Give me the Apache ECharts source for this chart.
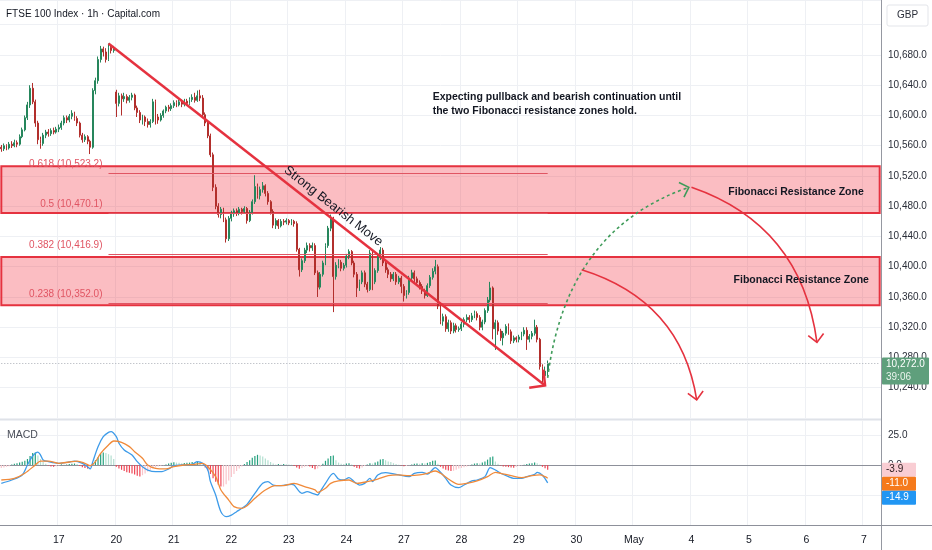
<!DOCTYPE html>
<html>
<head>
<meta charset="utf-8">
<script src="https://cdn.jsdelivr.net/npm/echarts@6/dist/echarts.min.js"></script>
<style>
  html, body { margin: 0; padding: 0; background: #fff; }
  #main { width: 932px; height: 550px; }
</style>
</head>
<body>
<div id="main"></div>
<script>
// time scale: 22 hourly bars per trading day
var barsPerDay = 22;
var dayLabels = ['', '17', '20', '21', '22', '23', '24', '27', '28', '29', '30', 'May', '4', '5', '6', '7'];
var totalSlots = 337;

// FTSE 100 1h candles  [open, close, low, high]
var candles = [
  [10558,10556,10552,10561],[10556,10560,10553,10563],[10560,10557,10554,10562],[10557,10562,10555,10565],
  [10562,10560,10557,10566],[10560,10564,10558,10568],[10564,10562,10558,10567],[10562,10572,10560,10575],
  [10572,10581,10570,10584],[10581,10597,10579,10600],[10597,10614,10594,10618],[10614,10636,10610,10640],
  [10636,10618,10615,10643],[10618,10590,10585,10621],[10590,10568,10562,10593],[10568,10563,10556,10572],
  [10563,10574,10560,10577],[10574,10578,10570,10581],[10578,10576,10572,10582],[10576,10580,10573,10583],
  [10580,10578,10575,10584],[10578,10582,10576,10585],
  [10582,10584,10578,10588],[10584,10590,10581,10593],[10590,10597,10587,10600],[10597,10594,10590,10600],
  [10594,10599,10591,10602],[10599,10603,10595,10607],[10603,10596,10593,10605],[10596,10590,10586,10599],
  [10590,10574,10571,10592],[10574,10568,10564,10577],[10568,10572,10565,10575],[10572,10566,10562,10574],
  [10566,10558,10549,10568],[10558,10633,10556,10636],[10633,10646,10628,10650],[10646,10674,10642,10678],
  [10674,10688,10670,10692],[10688,10684,10678,10691],[10684,10674,10670,10689],[10674,10690,10672,10695.3],
  [10690,10686,10682,10693],[10686,10689,10683,10692],
  [10631,10616,10598,10634],[10616,10626,10612,10630],[10626,10622,10600,10629],[10622,10625,10618,10630],
  [10625,10620,10616,10628],[10620,10624,10617,10627],[10624,10627,10620,10630],[10627,10610,10607,10629],
  [10610,10604,10598,10613],[10604,10594,10590,10607],[10594,10598,10588,10601],[10598,10592,10586,10600],
  [10592,10588,10584,10596],[10588,10592,10584,10595],[10592,10618,10590,10622],[10618,10598,10588,10621],
  [10598,10594,10589,10602],[10594,10600,10592,10603],[10600,10606,10597,10608],[10606,10611,10603,10613],
  [10611,10609,10605,10614],[10609,10613,10606,10616],
  [10613,10617,10610,10620],[10617,10614,10611,10620],[10614,10618,10612,10621],[10618,10615,10611,10621],
  [10615,10619,10612,10622],[10619,10616,10613,10622],[10616,10621,10614,10624],[10621,10624,10618,10628],
  [10624,10620,10617,10630],[10620,10626,10618,10633],[10626,10623,10619,10634],[10623,10601,10598,10627],
  [10601,10590,10586,10604],[10590,10573,10570,10593],[10573,10548,10545,10576],[10548,10505,10500,10551],
  [10505,10480,10476,10509],[10480,10469,10465,10484],[10469,10476,10464,10479],[10476,10462,10459,10478],
  [10462,10437,10432,10465],[10437,10464,10434,10467],
  [10464,10470,10460,10474],[10470,10474,10466,10477],[10474,10471,10467,10477],[10471,10476,10468,10479],
  [10476,10473,10469,10478],[10473,10477,10470,10480],[10477,10461,10457,10479],[10461,10472,10459,10475],
  [10472,10486,10469,10489],[10486,10506,10483,10521],[10506,10494,10490,10510],[10494,10502,10489,10506],
  [10502,10507,10498,10512],[10507,10497,10493,10509],[10497,10486,10482,10500],[10486,10473,10469,10488],
  [10473,10455,10451,10476],[10455,10461,10450,10464],[10461,10454,10450,10463],[10454,10460,10452,10463],
  [10460,10459,10455,10463],[10459,10461,10456,10464],
  [10461,10458,10455,10463],[10458,10460,10455,10463],[10460,10457,10453,10462],[10457,10423,10420,10460],
  [10423,10396,10387,10425],[10396,10408,10393,10411],[10408,10422,10405,10425],[10422,10428,10418,10432],
  [10428,10425,10420,10431],[10425,10428,10421,10432],[10428,10392,10389,10431],[10392,10373,10360,10395],
  [10373,10390,10370,10393],[10390,10405,10387,10408],[10405,10428,10402,10431],[10428,10451,10425,10454],
  [10451,10464,10447,10469],[10464,10387,10340,10466],[10387,10402,10383,10406],[10402,10406,10398,10410],
  [10406,10398,10394,10409],[10398,10402,10395,10405],
  [10402,10414,10399,10417],[10414,10420,10410,10423],[10420,10405,10402,10422],[10405,10390,10386,10408],
  [10390,10372,10360,10393],[10372,10380,10368,10383],[10380,10392,10377,10395],[10392,10377,10373,10395],
  [10377,10370,10366,10380],[10370,10418,10368,10422],[10418,10380,10369,10421],[10380,10395,10377,10398],
  [10395,10413,10392,10416],[10413,10422,10409,10426],[10422,10405,10401,10425],[10405,10396,10392,10408],
  [10396,10390,10385,10399],[10390,10384,10380,10393],[10384,10390,10381,10393],[10390,10380,10376,10393],
  [10380,10385,10377,10388],[10385,10374,10365,10388],
  [10374,10362,10354,10377],[10362,10366,10358,10369],[10366,10385,10363,10388],[10385,10392,10381,10396],
  [10392,10384,10380,10395],[10384,10379,10375,10387],[10379,10374,10370,10382],[10374,10368,10364,10377],
  [10368,10362,10358,10371],[10362,10375,10360,10378],[10375,10386,10372,10389],[10386,10394,10383,10398],
  [10394,10400,10390,10409],[10400,10348,10344,10403],[10348,10328,10324,10351],[10328,10334,10322,10338],
  [10334,10318,10314,10337],[10318,10326,10314,10330],[10326,10315,10311,10329],[10315,10322,10312,10326],
  [10322,10317,10313,10325],[10317,10318,10314,10321],
  [10318,10324,10315,10327],[10324,10330,10320,10333],[10330,10333,10327,10337],[10333,10330,10326,10336],
  [10330,10335,10327,10339],[10335,10338,10332,10342],[10338,10333,10329,10341],[10333,10320,10316,10336],
  [10320,10327,10316,10330],[10327,10342,10324,10345],[10342,10356,10339,10360],[10356,10372,10353,10380],
  [10372,10318,10304,10374],[10318,10326,10290,10330],[10326,10315,10310,10329],[10315,10306,10302,10318],
  [10306,10312,10296,10315],[10312,10321,10309,10324],[10321,10314,10310,10325],[10314,10302,10298,10317],
  [10302,10306,10299,10309],[10306,10304,10300,10308],
  [10304,10307,10300,10310],[10307,10311,10303,10314],[10311,10316,10308,10320],[10316,10304,10290,10320],
  [10304,10308,10300,10311],[10308,10312,10304,10315],[10312,10320,10309,10330],[10320,10304,10300,10323],
  [10304,10268,10264,10306],[10268,10256,10245,10271],[10256,10262,10248,10268],[10262,10272,10255,10276]
];

// MACD histogram, one value per bar
var macdHist = [
  -2.5,-2,-1.5,-1,0.5,1,1.5,2,2.8,3.5,
  5,7.5,10,10.5,8,5,2.5,1,-0.5,-1.2,
  -1.5,-1,-0.5,0.5,0.3,0.5,0.8,1,1.2,0.8,
  -0.8,-1.8,-2.5,-3,-1.5,1.5,4,6.5,9.5,10.5,
  10,9,8,5,-1.5,-3,-4,-5,-6,-6.5,
  -7,-8,-9,-9.5,-8.5,-7,-5.5,-4,-3,-2,
  -1.2,-0.6,-0.2,0.5,1.2,1.8,2.2,2,1.8,1.5,
  1.6,1.8,2,2.4,2.2,2.6,2.3,0.5,-2,-4.5,
  -7.5,-11,-14,-16.5,-18,-18,-16,-13,-10,-7.5,
  -5,-3,-1.2,0.8,2.5,4,6,7.5,8.5,8,
  7,5.5,4,2.5,1.2,0.5,0.8,0.5,0.8,0.6,
  0.4,0.2,-0.8,-2,-3.2,-2.5,-1.5,-1,-1.2,-2.5,
  -3.5,-3,-1.5,1,3.5,5.5,7.5,8,4,2,
  1,0.8,1.2,1.5,0.5,-1.5,-2.5,-3,-2,-0.8,
  0.5,1.5,1.2,2,3,4.5,5,4,3,2.5,
  1.5,0.8,0.3,-0.5,-1,-0.8,-0.3,0.5,1,1.2,
  1,1.5,1.2,1.8,2.5,3.5,3.8,1,-1.5,-3,
  -4,-4.5,-5,-4.8,-4,-3,-2.5,-1.8,-1.2,-0.5,
  0.5,1.2,1.5,1.2,2,3,4.5,6.5,7,3,
  1,-0.5,-1.2,-1.5,-1.8,-2,-2.2,-1.5,-0.8,-0.3,
  0.3,0.8,1.2,1.5,2,1.5,0.5,-1.5,-2.8,-3.9
];

// MACD line, read at [bar, value]
var macdLine = [
  [0,-15.3],[4,-12.5],[8,-8.3],[10,0],[12,7.5],[14,10.8],[15,8.3],[16,4.2],[18,2.8],[22,1.4],
  [26,2.5],[28,3.3],[31,1.4],[33,-1.4],[34,-3.3],[35,2.8],[37,15.3],[39,23.6],[41,27.2],[42,27.8],
  [44,23.6],[45,18.1],[47,12.5],[50,8.3],[52,2.8],[54,-1.4],[56,-4.2],[59,-5.6],[61,-5.6],[64,-3.3],
  [66,-0.6],[69,0],[73,0.6],[75,2.8],[77,1.4],[79,-4.2],[80,-13.9],[82,-25],[84,-38.9],[86,-43],
  [88,-41.7],[90,-38.9],[92,-36.1],[94,-32.8],[97,-23.6],[100,-15.3],[102,-13.9],[104,-16.7],[107,-17.2],[111,-16.1],
  [112,-16.7],[115,-23.6],[117,-22.2],[119,-23.6],[121,-25],[122,-22],[124,-15.3],[127,-6.9],[129,-11.7],[131,-12.5],
  [133,-10.6],[135,-13.9],[137,-16.7],[139,-15.3],[141,-11.1],[142,-13.9],[144,-8.3],[147,-6.4],[149,-6.9],[152,-8.3],
  [156,-9.7],[158,-6.9],[161,-6.1],[163,-7.5],[166,-2.2],[168,-6.1],[170,-11.1],[172,-16.7],[175,-18.9],[177,-16.7],
  [180,-13.3],[182,-12.5],[185,-9.7],[187,-2.2],[189,-4.2],[191,-6.9],[194,-9.7],[196,-11.1],[199,-11.1],[201,-9.7],
  [204,-7.8],[205,-6.1],[207,-8.5],[209,-14.9]
];

// signal line, read at [bar, value]
var signalLine = [
  [0,-12.5],[5,-11.1],[9,-6.9],[13,0],[15,3.3],[18,3.3],[22,1.4],[26,2.5],[29,3.3],[32,1.4],
  [34,-0.5],[36,2.8],[38,9.7],[41,16.7],[43,20],[46,18.9],[49,15.3],[51,11.1],[54,5.6],[56,0],
  [59,-2.8],[63,-3.3],[66,-1.4],[70,0],[74,0.6],[77,1.4],[79,-1.4],[82,-9.7],[84,-20.8],[87,-29.2],
  [89,-34.7],[92,-36.1],[94,-33.9],[97,-27.8],[101,-20.8],[105,-17.2],[108,-17.2],[112,-15.3],[116,-18.1],[120,-20.8],
  [121,-22.8],[124,-19.4],[126,-15.3],[129,-13.3],[133,-12.5],[136,-15.3],[140,-13.9],[144,-11.7],[148,-8.9],[152,-8.3],
  [156,-8.9],[160,-8.3],[163,-6.9],[166,-5],[168,-6.9],[171,-11.7],[175,-16.1],[178,-15.3],[182,-13.3],[186,-9.7],
  [189,-6.1],[191,-6.9],[195,-8.9],[199,-10.6],[203,-8.9],[206,-8.3],[208,-9.7],[209,-11]
];

// fibonacci retracement levels and resistance zones
var fibLevels = [
  { ratio: '0.618', value: 10523.2 },
  { ratio: '0.5', value: 10470.1 },
  { ratio: '0.382', value: 10416.9 },
  { ratio: '0.238', value: 10352.0 }
];
var fibStart = 41, fibEnd = 209;
var zones = [[10471, 10533], [10349, 10413]];

// trend line (bar, price)
var trendFrom = [41, 10695.3];
var trendTo = [208, 10243];

// projection arrows in (bar, price): start, control, end
var projections = [
  { from: [209, 10253], ctrl: [216, 10449], to: [263, 10505], color: '#3f9b5a', dashed: true },
  { from: [222, 10396], ctrl: [260, 10355], to: [266, 10224], color: '#e5323f' },
  { from: [264, 10505], ctrl: [306, 10455], to: [312, 10300], color: '#e5323f' }
];

var notes = [
  { at: [165, 10634], text: 'Expecting pullback and bearish continuation until\nthe two Fibonacci resistance zones hold.', align: 'left' },
  { at: [304, 10499], text: 'Fibonacci Resistance Zone', align: 'center' },
  { at: [306, 10382.5], text: 'Fibonacci Resistance Zone', align: 'center' }
];

var FONT = "'Liberation Sans', Arial, sans-serif";
var upColor = '#26865c';
var downColor = '#b22f2c';
var gridColor = '#eef0f4';
var red = '#e5323f';

var categories = [];
dayLabels.forEach(function (d, di) {
  for (var k = 0; k < barsPerDay; k++) {
    categories.push(k === 0 && d ? d : (di + ':' + k));
  }
});
categories = categories.slice(0, totalSlots);

function isDayStart(v) {
  return String(v).indexOf(':') < 0;
}

function fmt(v) {
  var s = Math.abs(v).toFixed(1).split('.');
  return (v < 0 ? '-' : '') + s[0].replace(/\B(?=(\d{3})+(?!\d))/g, ',') + '.' + s[1];
}

// histogram colours like the TradingView MACD
var histData = macdHist.map(function (v, i) {
  var prev = i > 0 ? macdHist[i - 1] : v;
  var c;
  if (v >= 0) c = v >= prev ? '#26a17f' : '#b2dfd0';
  else c = v < prev ? '#ef4655' : '#f9c4ca';
  return { value: v, itemStyle: { color: c } };
});

var chart = echarts.init(document.getElementById('main'));

var option = {
  animation: false,
  backgroundColor: '#ffffff',
  textStyle: { fontFamily: FONT },
  grid: [
    { left: -2, right: 51, top: 0, height: 418 },
    { left: -2, right: 51, top: 420, height: 105 }
  ],
  xAxis: [
    {
      type: 'category', gridIndex: 0, data: categories,
      axisLine: { show: false }, axisTick: { show: false }, axisLabel: { show: false },
      splitLine: { show: true, interval: function (i, v) { return isDayStart(v); }, lineStyle: { color: gridColor } }
    },
    {
      type: 'category', gridIndex: 1, data: categories,
      axisLine: { show: true, lineStyle: { color: '#8d909a' } },
      axisTick: { show: false },
      axisLabel: {
        interval: function (i, v) { return isDayStart(v); },
        formatter: function (v) { return isDayStart(v) ? v : ''; },
        color: '#131722', fontSize: 10.5, margin: 10, fontFamily: FONT
      },
      splitLine: { show: true, interval: function (i, v) { return isDayStart(v); }, lineStyle: { color: gridColor } }
    }
  ],
  yAxis: [
    {
      type: 'value', gridIndex: 0, position: 'right', scale: true,
      min: 10200, max: 10752.7, interval: 40,
      axisLine: { show: false }, axisTick: { show: false },
      splitLine: { lineStyle: { color: gridColor } },
      axisLabel: {
        margin: 7, color: '#2a2e39', fontSize: 10, fontFamily: FONT,
        formatter: function (v) { return (v < 10240 || v > 10700) ? '' : fmt(v); }
      }
    },
    {
      type: 'value', gridIndex: 1, position: 'right',
      min: -50, max: 37.5, interval: 25,
      axisLine: { show: false }, axisTick: { show: false },
      splitLine: { lineStyle: { color: gridColor } },
      axisLabel: {
        margin: 7, color: '#2a2e39', fontSize: 10, fontFamily: FONT,
        formatter: function (v) { return (v === 25 || v === 0) ? fmt(v) : ''; }
      }
    }
  ],
  series: [
    {
      // zones, fib lines and price line, drawn under the candles
      type: 'line', xAxisIndex: 0, yAxisIndex: 0, data: [], z: 1,
      markArea: {
        silent: true,
        itemStyle: { color: 'rgba(242,54,69,0.33)', borderColor: red, borderWidth: 2 },
        data: zones.map(function (z) {
          return [{ xAxis: 0, yAxis: z[1] }, { xAxis: totalSlots - 1, yAxis: z[0] }];
        })
      },
      markLine: {
        silent: true, symbol: ['none', 'none'], label: { show: false },
        data: fibLevels.map(function (f) {
          return [
            { coord: [fibStart, f.value], lineStyle: { color: '#e05563', width: 1, type: 'solid' } },
            { coord: [fibEnd, f.value] }
          ];
        }).concat([[
          { coord: [0, candles[candles.length - 1][1]], lineStyle: { color: '#a9adb5', width: 1, type: [1, 2] } },
          { coord: [totalSlots - 1, candles[candles.length - 1][1]] }
        ]])
      }
    },
    {
      type: 'candlestick', xAxisIndex: 0, yAxisIndex: 0, z: 2,
      data: candles,
      barWidth: 1.4,
      itemStyle: {
        color: upColor, color0: downColor,
        borderColor: upColor, borderColor0: downColor, borderWidth: 1
      }
    },
    {
      // the "strong bearish move" trend line
      type: 'line', xAxisIndex: 0, yAxisIndex: 0, data: [], z: 5,
      markLine: {
        silent: true, symbol: ['none', 'none'],
        lineStyle: { color: red, width: 2.5, type: 'solid' },
        label: {
          show: true, position: 'insideMiddleTop', distance: 4,
          formatter: 'Strong Bearish Move', color: '#131722', fontSize: 13, fontFamily: FONT
        },
        data: [[{ coord: trendFrom }, { coord: trendTo }]]
      }
    },
    {
      type: 'bar', xAxisIndex: 1, yAxisIndex: 1, data: histData, barWidth: 1.2
    },
    {
      type: 'line', xAxisIndex: 1, yAxisIndex: 1, data: macdLine,
      showSymbol: false, smooth: 0.3, lineStyle: { color: '#3d9be9', width: 1.3 }, z: 3
    },
    {
      type: 'line', xAxisIndex: 1, yAxisIndex: 1, data: signalLine,
      showSymbol: false, smooth: 0.3, lineStyle: { color: '#f08a3a', width: 1.3 }, z: 3
    }
  ]
};

chart.setOption(option);

function pt(c) {
  return chart.convertToPixel({ gridIndex: 0 }, c);
}

// open arrow head at tip, opening back towards "back"
function chevron(tip, back, len, ang) {
  var dx = back[0] - tip[0], dy = back[1] - tip[1];
  var d = Math.sqrt(dx * dx + dy * dy);
  dx /= d; dy /= d;
  function rot(a) {
    return [tip[0] + len * (dx * Math.cos(a) - dy * Math.sin(a)),
            tip[1] + len * (dx * Math.sin(a) + dy * Math.cos(a))];
  }
  return [rot(ang), tip, rot(-ang)];
}

var g = [];

// fib level captions, just above each level, left of where it starts
fibLevels.forEach(function (f) {
  var p = pt([fibStart, f.value]);
  g.push({ type: 'text', z: 21, x: p[0] - 6, y: p[1] - 9,
    style: { text: f.ratio + ' (' + fmt(f.value) + ')', fill: '#e05563', font: '10px ' + FONT,
      align: 'right', verticalAlign: 'middle' } });
});

// trend arrow head
var tA = pt(trendTo), tB = pt(trendFrom);
g.push({ type: 'polyline', z: 20, shape: { points: chevron(tA, tB, 16, 0.8) },
  style: { stroke: red, lineWidth: 2.5, fill: null } });

projections.forEach(function (p) {
  var a = pt(p.from), c = pt(p.ctrl), b = pt(p.to);
  g.push({ type: 'bezierCurve', z: 20,
    shape: { x1: a[0], y1: a[1], cpx1: c[0], cpy1: c[1], x2: b[0], y2: b[1] },
    style: { stroke: p.color, lineWidth: 1.6, fill: null, lineDash: p.dashed ? [3, 3] : null } });
  g.push({ type: 'polyline', z: 20, shape: { points: chevron(b, c, 11, 0.78) },
    style: { stroke: p.color, lineWidth: 1.6, fill: null } });
});

notes.forEach(function (n) {
  var p = pt(n.at);
  g.push({ type: 'text', z: 21, x: p[0], y: p[1],
    style: { text: n.text, fill: '#131722', font: 'bold 10.5px ' + FONT, lineHeight: 14,
      align: n.align, verticalAlign: n.align === 'left' ? 'top' : 'middle' } });
});

// header, pane titles, axis frame
g.push({ type: 'text', z: 21, x: 6, y: 14, style: { text: 'FTSE 100 Index \u00b7 1h \u00b7 Capital.com', fill: '#131722', font: '10px ' + FONT, verticalAlign: 'middle' } });
g.push({ type: 'text', z: 21, x: 7, y: 435, style: { text: 'MACD', fill: '#4a4e59', font: '10.5px ' + FONT, verticalAlign: 'middle' } });
g.push({ type: 'line', z: 15, shape: { x1: 881.5, y1: 0, x2: 881.5, y2: 550 }, style: { stroke: '#9598a1', lineWidth: 1 } });
g.push({ type: 'line', z: 15, shape: { x1: 0, y1: 419.5, x2: 881, y2: 419.5 }, style: { stroke: '#dfe2e8', lineWidth: 1 } });
g.push({ type: 'line', z: 15, shape: { x1: 0, y1: 525.5, x2: 932, y2: 525.5 }, style: { stroke: '#8d909a', lineWidth: 1 } });
g.push({ type: 'rect', z: 21, shape: { x: 887, y: 5, width: 41, height: 21, r: 2 }, style: { fill: '#fff', stroke: '#e3e5ea' } });
g.push({ type: 'text', z: 22, x: 907.5, y: 15.5, style: { text: 'GBP', fill: '#2a2e39', font: '10px ' + FONT, align: 'center', verticalAlign: 'middle' } });

// last price tag
var lastClose = candles[candles.length - 1][1];
var py = chart.convertToPixel({ yAxisIndex: 0 }, lastClose);
g.push({ type: 'rect', z: 21, shape: { x: 882, y: py - 6, width: 47, height: 27, r: 1 }, style: { fill: '#5f9f7c' } });
g.push({ type: 'text', z: 22, x: 886, y: py + 1, style: { text: fmt(lastClose), fill: '#fff', font: '10px ' + FONT, verticalAlign: 'middle' } });
g.push({ type: 'text', z: 22, x: 886, y: py + 14, style: { text: '39:06', fill: '#e8f3ec', font: '10px ' + FONT, verticalAlign: 'middle' } });

// MACD pane value tags, stacked so they do not overlap
var tags = [
  { v: macdHist[macdHist.length - 1], bg: '#f9cdd3', fg: '#2a1a1c' },
  { v: signalLine[signalLine.length - 1][1], bg: '#f57a1c', fg: '#fff' },
  { v: macdLine[macdLine.length - 1][1], bg: '#2196f3', fg: '#fff' }
];
var lastBottom = -1e9;
tags.forEach(function (t) {
  var y = chart.convertToPixel({ yAxisIndex: 1 }, t.v);
  if (y - 7 < lastBottom) y = lastBottom + 7;
  lastBottom = y + 7;
  g.push({ type: 'rect', z: 21, shape: { x: 882, y: y - 7, width: 34, height: 14, r: 1 }, style: { fill: t.bg } });
  g.push({ type: 'text', z: 22, x: 886, y: y, style: { text: fmt(t.v), fill: t.fg, font: '10px ' + FONT, verticalAlign: 'middle' } });
});

chart.setOption({ graphic: g });
</script>
</body>
</html>
